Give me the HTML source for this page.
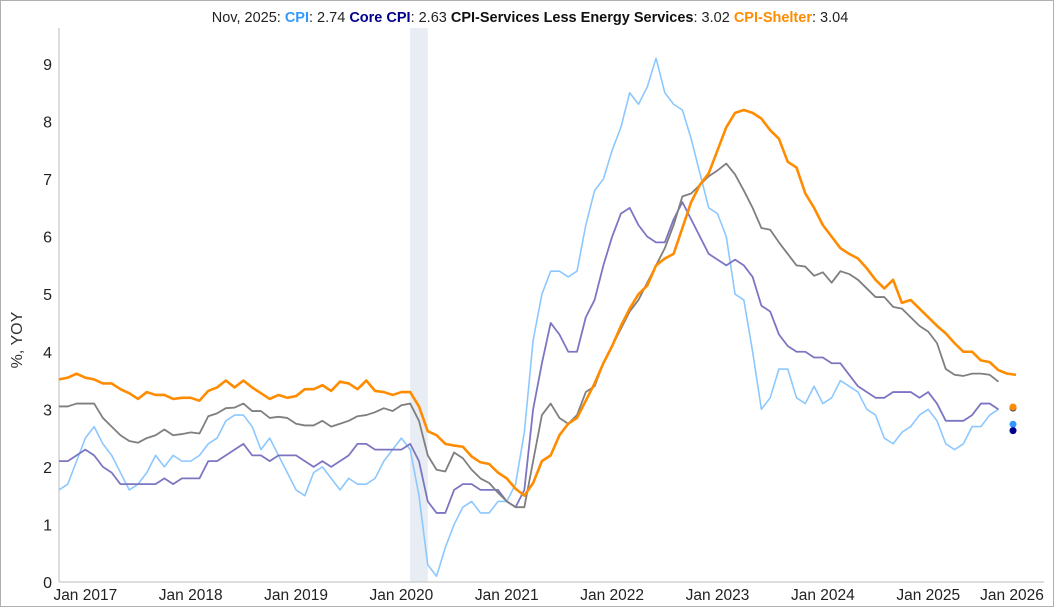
<!DOCTYPE html>
<html><head><meta charset="utf-8"><style>
body{margin:0;background:#fff;font-family:"Liberation Sans",sans-serif}
#frame{position:absolute;left:0;top:0;width:1052px;height:605px;border:1px solid #b0b0b0}
</style></head><body>
<div id="frame"></div>
<svg id="chart" width="1054" height="607" style="position:absolute;left:0;top:0">
<g id="g"></g>
<text x="530" y="22" text-anchor="middle" font-size="14.5"><tspan fill="#222">Nov, 2025: </tspan><tspan fill="#3399ff" font-weight="bold">CPI</tspan><tspan fill="#222">: 2.74 </tspan><tspan fill="#00008b" font-weight="bold">Core CPI</tspan><tspan fill="#222">: 2.63 </tspan><tspan fill="#111" font-weight="bold">CPI-Services Less Energy Services</tspan><tspan fill="#222">: 3.02 </tspan><tspan fill="#ff8c00" font-weight="bold">CPI-Shelter</tspan><tspan fill="#222">: 3.04</tspan></text>
<text transform="translate(22,340) rotate(-90)" text-anchor="middle" font-size="16" fill="#333">%, YOY</text>
</svg>
<script>
// monthly from Oct 2016 to Sep 2025
const cpi=[1.6,1.7,2.1, 2.5,2.7,2.4,2.2,1.9,1.6,1.7,1.9,2.2,2.0,2.2,2.1, 2.1,2.2,2.4,2.5,2.8,2.9,2.9,2.7,2.3,2.5,2.2,1.9, 1.6,1.5,1.9,2.0,1.8,1.6,1.8,1.7,1.7,1.8,2.1,2.3, 2.5,2.3,1.5,0.3,0.1,0.6,1.0,1.3,1.4,1.2,1.2,1.4, 1.4,1.7,2.6,4.2,5.0,5.4,5.4,5.3,5.4,6.2,6.8,7.0, 7.5,7.9,8.5,8.3,8.6,9.1,8.5,8.3,8.2,7.7,7.1,6.5, 6.4,6.0,5.0,4.9,4.0,3.0,3.2,3.7,3.7,3.2,3.1,3.4, 3.1,3.2,3.5,3.4,3.3,3.0,2.9,2.5,2.4,2.6,2.7,2.9, 3.0,2.8,2.4,2.3,2.4,2.7,2.7,2.9,3.0];
const core=[2.1,2.1,2.2, 2.3,2.2,2.0,1.9,1.7,1.7,1.7,1.7,1.7,1.8,1.7,1.8, 1.8,1.8,2.1,2.1,2.2,2.3,2.4,2.2,2.2,2.1,2.2,2.2, 2.2,2.1,2.0,2.1,2.0,2.1,2.2,2.4,2.4,2.3,2.3,2.3, 2.3,2.4,2.1,1.4,1.2,1.2,1.6,1.7,1.7,1.6,1.6,1.6, 1.4,1.3,1.6,3.0,3.8,4.5,4.3,4.0,4.0,4.6,4.9,5.5, 6.0,6.4,6.5,6.2,6.0,5.9,5.9,6.3,6.6,6.3,6.0,5.7, 5.6,5.5,5.6,5.5,5.3,4.8,4.7,4.3,4.1,4.0,4.0,3.9, 3.9,3.8,3.8,3.6,3.4,3.3,3.2,3.2,3.3,3.3,3.3,3.2, 3.3,3.1,2.8,2.8,2.8,2.9,3.1,3.1,3.0];
const services=[3.05,3.05,3.1, 3.1,3.1,2.85,2.7,2.55,2.45,2.42,2.5,2.55,2.65,2.55,2.57, 2.6,2.58,2.88,2.93,3.02,3.03,3.1,2.97,2.97,2.85,2.87,2.85, 2.75,2.72,2.72,2.8,2.7,2.75,2.8,2.88,2.9,2.95,3.02,2.97, 3.07,3.1,2.8,2.2,1.95,1.92,2.25,2.15,1.95,1.8,1.72,1.55, 1.4,1.3,1.3,2.1,2.9,3.1,2.85,2.75,2.9,3.3,3.4,3.8, 4.1,4.4,4.7,4.9,5.2,5.5,5.8,6.2,6.7,6.75,6.9,7.05, 7.15,7.27,7.08,6.8,6.5,6.15,6.12,5.9,5.7,5.5,5.48,5.32, 5.38,5.2,5.4,5.35,5.25,5.1,4.95,4.95,4.78,4.75,4.6,4.45, 4.35,4.15,3.7,3.6,3.58,3.62,3.62,3.6,3.48];
const shelter=[3.52,3.55,3.62, 3.55,3.52,3.45,3.45,3.35,3.28,3.18,3.3,3.25,3.25,3.18,3.2, 3.2,3.15,3.32,3.38,3.5,3.38,3.5,3.38,3.28,3.18,3.25,3.2, 3.23,3.35,3.35,3.42,3.32,3.48,3.45,3.35,3.5,3.32,3.3,3.25, 3.3,3.3,3.05,2.62,2.55,2.4,2.37,2.35,2.18,2.08,2.05,1.9, 1.8,1.62,1.5,1.72,2.1,2.2,2.55,2.75,2.85,3.15,3.45,3.8, 4.1,4.45,4.75,5.0,5.15,5.5,5.62,5.7,6.15,6.6,6.9,7.1, 7.5,7.9,8.15,8.2,8.15,8.05,7.85,7.7,7.3,7.2,6.75,6.5, 6.2,6.0,5.8,5.7,5.62,5.45,5.25,5.1,5.25,4.85,4.9,4.75, 4.6,4.45,4.32,4.15,4.0,4.0,3.85,3.82,3.68,3.62,3.6];
const latestVals=[3.02,3.04,2.74,2.63];
const yTicks=[0,1,2,3,4,5,6,7,8,9];
const xTickLabels=["Jan 2017","Jan 2018","Jan 2019","Jan 2020","Jan 2021","Jan 2022","Jan 2023","Jan 2024","Jan 2025","Jan 2026"];
const xTickMonths=[3,15,27,39,51,63,75,87,99,111];
const ns="http://www.w3.org/2000/svg",g=document.getElementById('g');
const X=m=>59+m*8.78, Y=v=>582-v*57.56;
function mk(t,a){const e=document.createElementNS(ns,t);for(const k in a)e.setAttribute(k,a[k]);g.appendChild(e);return e;}
let r=mk('rect',{x:X(40),y:28,width:X(42)-X(40),height:582-28,fill:'#e8ecf3'});


let ax=mk('line',{x1:59,y1:28,x2:59,y2:582,stroke:'#bbb'});


let bx=mk('line',{x1:59,y1:582,x2:1044,y2:582,stroke:'#bbb'});


yTicks.forEach(v=>{const t=mk('text',{x:52,y:Y(v)+6,'text-anchor':'end','font-size':16,fill:'#222'});t.textContent=v;

});
xTickLabels.forEach((l,i)=>{let x=X(xTickMonths[i]);if(x>1012)x=1012;const t=mk('text',{x:x,y:600,'text-anchor':'middle','font-size':15.5,fill:'#222'});t.textContent=l;

});
function line(arr,col,w,name){const p=mk('polyline',{points:arr.map((v,i)=>X(i)+','+Y(v)).join(' '),fill:'none',stroke:col,'stroke-width':w,'stroke-linejoin':'round'});

}
line(cpi,'#8cc8ff',1.6,'cpi-line');
line(core,'#7c76c2',1.8,'core-cpi-line');
line(services,'#7f7f7f',1.8,'services-line');
line(shelter,'#ff8c00',2.6,'shelter-line');
const dotCols=['#555','#ff8c00','#3399ff','#00008b'];
const dotNames=['services-dot','shelter-dot','cpi-dot','core-cpi-dot'];
latestVals.forEach((v,i)=>{const c=mk('circle',{cx:X(109)-3,cy:Y(v),r:3.5,fill:dotCols[i]});

});
</script>
</body></html>
